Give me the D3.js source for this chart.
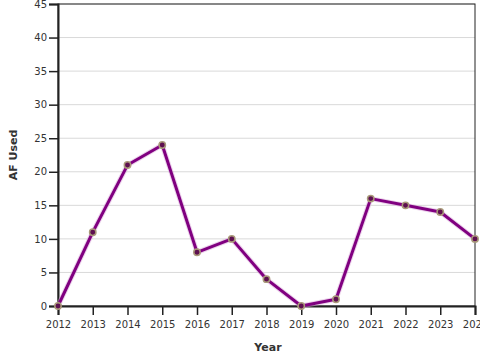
<!DOCTYPE html>
<html><head><meta charset="utf-8">
<script src="https://cdn.jsdelivr.net/npm/d3@7"></script>
<style>body{margin:0;background:#fff}svg{display:block}</style>
</head><body>
<script>
const years = [2012,2013,2014,2015,2016,2017,2018,2019,2020,2021,2022,2023,2024];
const afUsed = [0,11,21,24,8,10,4,0,1,16,15,14,10];
const yTicks = [0,5,10,15,20,25,30,35,40,45];

const W=480,H=360, m={l:58,r:5,t:4,b:54};
const svg=d3.select("body").append("svg").attr("width",W).attr("height",H).style("font-family","DejaVu Sans, sans-serif");
const x=d3.scaleLinear().domain([2012,2024]).range([m.l,W-m.r]);
const y=d3.scaleLinear().domain([0,45]).range([H-m.b,m.t]);

svg.append("g").selectAll("line").data(yTicks.filter(d=>d>0)).join("line")
  .attr("x1",m.l).attr("x2",W-m.r).attr("y1",d=>y(d)).attr("y2",d=>y(d))
  .attr("stroke","#d9d9d9").attr("stroke-width",1);

// frame
svg.append("rect").attr("x",m.l).attr("y",m.t).attr("width",W-m.r-m.l).attr("height",H-m.b-m.t)
  .attr("fill","none").attr("stroke","#222").attr("stroke-width",1);

const ya=svg.append("g").attr("transform",`translate(${m.l},0)`)
  .call(d3.axisLeft(y).tickValues(yTicks).tickSize(9).tickPadding(2));
const xa=svg.append("g").attr("transform",`translate(0,${H-m.b})`)
  .call(d3.axisBottom(x).tickValues(years).tickFormat(d3.format("d")).tickSize(9).tickPadding(6));
[ya,xa].forEach(g=>{
  g.select(".domain").attr("stroke","#222").attr("stroke-width",2);
  g.selectAll(".tick line").attr("stroke","#222").attr("stroke-width",1.5);
  g.selectAll(".tick text").attr("fill","#333").style("font-size","10px").style("font-family","DejaVu Sans, sans-serif");
});

const line=d3.line().x((d,i)=>x(years[i])).y(d=>y(d));
svg.append("path").datum(afUsed).attr("d",line).attr("fill","none")
  .attr("stroke","#d9a8d9").attr("stroke-width",5).attr("opacity",0.5).attr("stroke-linejoin","round");
svg.append("path").datum(afUsed).attr("d",line).attr("fill","none")
  .attr("stroke","#800080").attr("stroke-width",3).attr("stroke-linejoin","round");
svg.append("g").selectAll("circle").data(afUsed).join("circle")
  .attr("cx",(d,i)=>x(years[i])).attr("cy",d=>y(d)).attr("r",3.2)
  .attr("fill","#5e1050").attr("stroke","#a99a7a").attr("stroke-width",1.5);

svg.append("text").attr("x",268).attr("y",351).attr("text-anchor","middle")
  .style("font-size","11px").style("font-weight","bold").attr("fill","#333").text("Year");
svg.append("text").attr("transform","translate(17,155) rotate(-90)").attr("text-anchor","middle")
  .style("font-size","11px").style("font-weight","bold").attr("fill","#333").text("AF Used");
</script>
</body></html>
